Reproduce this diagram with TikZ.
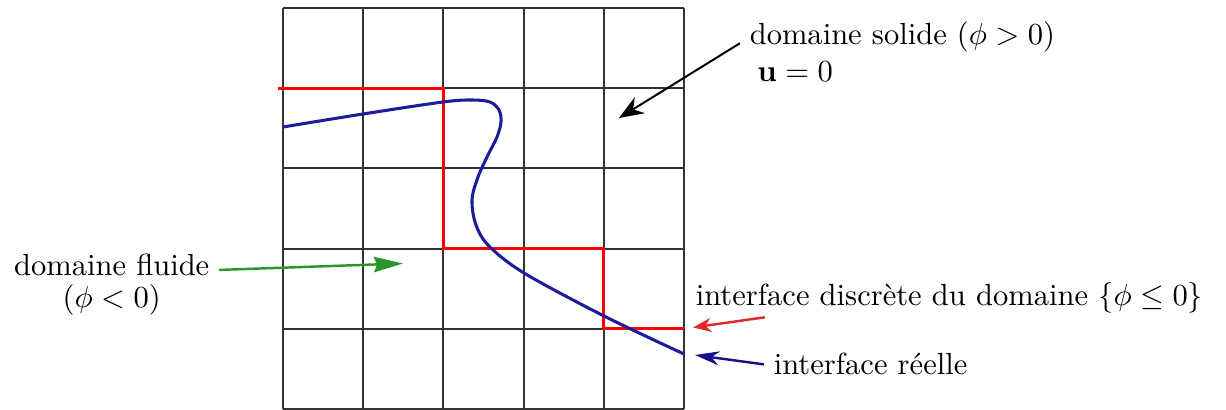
\documentclass[tikz,border=0pt]{standalone}
\usepackage{amsmath,amssymb}
\usepackage{tikz}
\usetikzlibrary{arrows.meta}

\definecolor{fluidgreen}{RGB}{40,150,40}
\definecolor{realblue}{RGB}{30,28,152}
\definecolor{arrowblue}{RGB}{25,15,140}
\definecolor{arrowred}{RGB}{225,40,40}

\begin{document}
\begin{tikzpicture}[x=0.0115cm,y=-0.0115cm,>=Stealth,
    gridline/.style={draw=black!80,line width=0.65pt},
    stairline/.style={draw=red,line width=1pt},
    curveline/.style={draw=realblue,line width=1pt},
    lab/.style={inner sep=3pt,font=\fontsize{10pt}{12pt}\selectfont}]
  \useasboundingbox (0,0) rectangle (1226,410);
  % maillage 5x5
  \foreach \i in {0,...,5} {
    \draw[gridline] (283+80.2*\i,8) -- (283+80.2*\i,409);
    \draw[gridline] (283,8+80.2*\i) -- (684,8+80.2*\i);
  }
  % interface discrete et interface reelle
  \draw[stairline] (278,88.2) -- (443.4,88.2) |- (603.8,248.6) |- (684,328.8);
  \draw[curveline] plot[smooth,tension=0.55] coordinates {(283,127) (363,114)
    (443,102) (472,100) (490,102) (499,110) (501,122) (497,137) (488,155)
    (478,177) (472,200) (476,225) (489,246) (524,273) (604,316) (684,354)};

  \node[lab,align=left,anchor=base west] (solide) at (740,81.5)
    {domaine solide ($\phi > 0$)\\\hspace*{2.5pt}$\mathbf{u}=0$};
  \node[lab,align=center,anchor=base,font=\fontsize{10pt}{10.5pt}\selectfont]
    (fluide) at (111.7,308) {domaine fluide\\($\phi < 0$)};
  \node[lab,anchor=base west] (discrete) at (686,306)
    {interface discrète du domaine $\{\phi \leq 0\}$};
  \node[lab,anchor=base west] (reelle) at (764,375) {interface réelle};

  \coordinate (soltip) at (619,118);
  \coordinate (fluidtip) at (403,263.5);
  \coordinate (disctip) at (693,327.5);
  \coordinate (reeltip) at (695,355);

  \path[->]
    (solide.177) edge[line width=0.65pt,-{Stealth[length=8pt,width=6.2pt]}] (soltip)
    (fluide.8) edge[draw=fluidgreen,line width=0.8pt,
      -{Stealth[length=9.5pt,width=5pt,inset=1pt]}] (fluidtip)
    ([xshift=25.8pt,yshift=2pt]discrete.south west) edge[draw=arrowred,
      line width=0.8pt,-{Stealth[length=6pt,width=4.6pt]}] (disctip)
    (reelle.west) edge[draw=arrowblue,line width=0.8pt,
      -{Stealth[length=8pt,width=4.6pt]}] (reeltip);
\end{tikzpicture}
\end{document}
